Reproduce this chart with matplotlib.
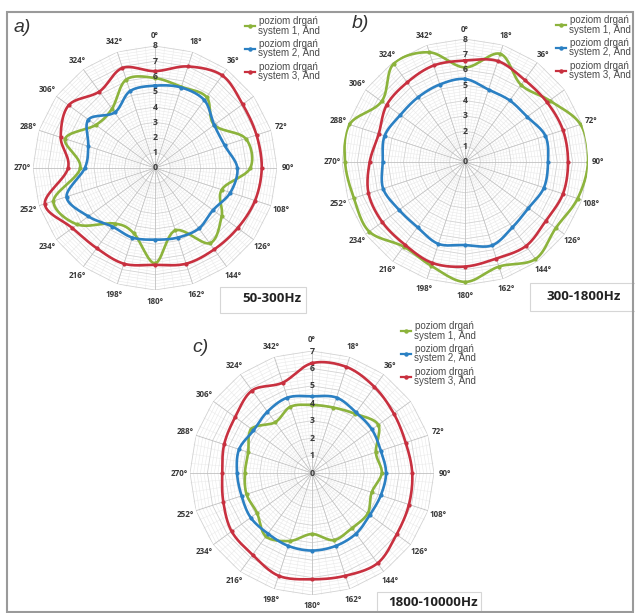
import numpy as np
import matplotlib
matplotlib.use("Agg")
import matplotlib.pyplot as plt
from matplotlib.lines import Line2D
from matplotlib.patches import Rectangle

# ---------------- data ----------------
angles_deg = [0, 18, 36, 54, 72, 90, 108, 126, 144, 162, 180,
              198, 216, 234, 252, 270, 288, 306, 324, 342]
# angle labels shown in the reference (54° is hidden behind the legend)
angle_labels_deg = [0, 18, 36, 72, 90, 108, 126, 144, 162, 180,
                    198, 216, 234, 252, 270, 288, 306, 324, 342]

# a) 50-300Hz
a_sys1 = [5.9, 5.6, 5.75, 4.8, 6.25, 6.25, 4.6, 5.4, 6.1, 4.3, 6.25,
          4.5, 4.5, 6.3, 7.0, 4.9, 6.2, 4.8, 4.8, 6.1]
a_sys2 = [5.4, 5.55, 5.5, 4.8, 4.8, 5.4, 5.2, 4.7, 4.9, 4.8, 4.7,
          4.8, 4.75, 5.4, 6.1, 4.6, 4.6, 5.4, 4.5, 5.3]
a_sys3 = [6.35, 7.0, 7.5, 7.1, 7.0, 7.0, 6.9, 6.7, 6.6, 6.6, 6.35,
          6.6, 6.5, 6.7, 7.6, 5.7, 6.5, 7.0, 6.2, 6.9]

# b) 300-1800Hz
b_sys1 = [6.15, 7.4, 6.2, 6.8, 7.9, 8.0, 7.7, 7.3, 7.8, 7.15, 7.8,
          7.1, 6.8, 7.7, 7.6, 7.8, 7.9, 6.7, 7.9, 7.5]
b_sys2 = [5.4, 4.95, 4.95, 5.0, 5.5, 5.4, 5.4, 5.1, 5.25, 5.7, 5.4,
          5.6, 5.25, 5.3, 5.6, 5.35, 5.5, 5.2, 5.2, 5.3]
b_sys3 = [6.6, 6.9, 6.6, 6.6, 6.7, 6.7, 6.7, 6.5, 6.75, 6.6, 6.8,
          6.9, 6.65, 6.65, 6.6, 6.2, 5.9, 6.3, 6.4, 6.6]

# c) 1800-10000Hz
c_sys1 = [3.9, 3.95, 4.2, 4.7, 3.85, 4.0, 3.6, 3.95, 3.9, 4.05, 3.5,
          4.1, 4.5, 3.9, 3.95, 3.85, 3.85, 4.3, 3.6, 4.0]
c_sys2 = [4.4, 4.55, 4.3, 4.25, 4.15, 4.25, 4.15, 4.1, 4.3, 4.4, 4.45,
          4.4, 4.3, 4.35, 4.25, 4.3, 4.4, 4.15, 4.35, 4.55]
c_sys3 = [6.3, 6.4, 6.1, 5.8, 5.65, 5.75, 5.85, 6.0, 6.4, 6.2, 6.1,
          6.2, 5.8, 5.7, 5.35, 5.15, 5.3, 5.45, 5.85, 5.45]

series_labels = ["poziom drgań\nsystem 1, Änd",
                 "poziom drgań\nsystem 2, Änd",
                 "poziom drgań\nsystem 3, Änd"]
series_colors = ["#8cb33c", "#2b80c3", "#c8303f"]
panel_letters = ["a)", "b)", "c)"]
band_labels = ["50-300Hz", "300-1800Hz", "1800-10000Hz"]
r_max = [8, 8, 7]

# ---------------- layout ----------------
W, H = 635, 613
fig = plt.figure(figsize=(W / 100, H / 100), dpi=100)
fig.patch.set_facecolor("white")


def px_rect(cx, cy, rad):
    return [(cx - rad) / W, (H - cy - rad) / H, 2 * rad / W, 2 * rad / H]


centers = [(155, 168, 122), (465, 162, 123), (312, 473, 122)]
data = [(a_sys1, a_sys2, a_sys3), (b_sys1, b_sys2, b_sys3), (c_sys1, c_sys2, c_sys3)]
legend_pos = [(245, 16), (556, 15), (401, 321)]
letter_pos = [(14, 27), (352, 24), (192, 347)]
band_boxes = [(220, 287, 86, 26, 301, 299), (530, 283, 106, 28, 621, 296),
              (377, 592, 104, 24, 478, 603)]

fam = ["Open Sans", "DejaVu Sans"]
leg_fam = ["Liberation Sans", "DejaVu Sans"]


def polygon_path(r, th_vertices, n=12):
    thv = list(th_vertices) + [th_vertices[0]]
    ths, rs = [], []
    for i in range(len(thv) - 1):
        x0, y0 = r * np.sin(thv[i]), r * np.cos(thv[i])
        x1, y1 = r * np.sin(thv[i + 1]), r * np.cos(thv[i + 1])
        t = np.linspace(0, 1, n, endpoint=False)
        xs = x0 + (x1 - x0) * t
        ys = y0 + (y1 - y0) * t
        ths.extend(np.arctan2(xs, ys))
        rs.extend(np.hypot(xs, ys))
    ths.append(ths[0])
    rs.append(rs[0])
    return np.unwrap(ths), rs


def smooth_closed(th, r, n=14):
    """Closed Catmull-Rom curve through the points (smoothed line style)."""
    x = np.asarray(r) * np.sin(th)
    y = np.asarray(r) * np.cos(th)
    N = len(x)
    xs, ys = [], []
    for i in range(N):
        p0 = np.array([x[(i - 1) % N], y[(i - 1) % N]])
        p1 = np.array([x[i], y[i]])
        p2 = np.array([x[(i + 1) % N], y[(i + 1) % N]])
        p3 = np.array([x[(i + 2) % N], y[(i + 2) % N]])
        for t in np.linspace(0, 1, n, endpoint=False):
            t2, t3 = t * t, t * t * t
            pt = 0.5 * ((2 * p1) + (-p0 + p2) * t +
                        (2 * p0 - 5 * p1 + 4 * p2 - p3) * t2 +
                        (-p0 + 3 * p1 - 3 * p2 + p3) * t3)
            xs.append(pt[0])
            ys.append(pt[1])
    xs.append(xs[0])
    ys.append(ys[0])
    xs, ys = np.array(xs), np.array(ys)
    return np.unwrap(np.arctan2(xs, ys)), np.hypot(xs, ys)


for k in range(3):
    cx, cy, rad = centers[k]
    ax = fig.add_axes(px_rect(cx, cy, rad), projection="polar")
    ax.set_theta_zero_location("N")
    ax.set_theta_direction(-1)
    rm = r_max[k]
    ax.set_ylim(0, rm)
    ax.set_xticks([])
    ax.set_yticks([])
    ax.grid(False)
    ax.spines["polar"].set_visible(False)
    ax.patch.set_alpha(0)

    th = np.deg2rad(angles_deg)
    # minor spokes
    for d in np.arange(0, 360, 4.5):
        if d % 18 != 0:
            ax.plot([np.deg2rad(d)] * 2, [1.0, rm], color="#ececec", lw=0.4, zorder=1)
    # rings
    for r in np.arange(0.2, rm + 0.001, 0.2):
        tt, rr = polygon_path(r, th)
        major = abs(r - round(r)) < 1e-6
        ax.plot(tt, rr, color="#d2d2d2" if major else "#e8e8e8",
                lw=0.6 if major else 0.4, zorder=1)
    # main spokes
    for t in th:
        ax.plot([t, t], [0, rm], color="#c0c0c0", lw=0.6, zorder=1.5)

    # data
    for s, vals in enumerate(data[k]):
        ts, rs = smooth_closed(th, vals)
        ax.plot(ts, rs, color=series_colors[s], lw=1.9, zorder=3 + s,
                solid_joinstyle="round")
        ax.plot(th, vals, linestyle="none", marker="o", markersize=2.0,
                color=series_colors[s], zorder=3 + s)

    # radial labels
    for r in range(0, rm + 1):
        ax.text(0, r, str(r), ha="center", va="center", fontsize=6.3,
                fontweight="bold", color="#3a3a3a", family=fam, zorder=8)
    # angle labels
    rl = rm * 133 / rad
    for d in angle_labels_deg:
        ax.text(np.deg2rad(d), rl, f"{d}°", ha="center", va="center",
                fontsize=5.8, fontweight="bold", color="#3a3a3a", family=fam)

    # legend
    handles = [Line2D([0], [0], color=series_colors[s], lw=1.6, marker="o",
                      markersize=2.2) for s in range(3)]
    lx, ly = legend_pos[k]
    leg = fig.legend(handles, series_labels, loc="upper left",
                     bbox_to_anchor=(lx / W, 1 - ly / H), frameon=False,
                     prop={"family": leg_fam, "size": 7.0}, handlelength=1.0,
                     handletextpad=0.3, labelspacing=0.35, borderpad=0,
                     borderaxespad=0)
    for t in leg.get_texts():
        t.set_multialignment("center")
        t.set_color("#4a4a4a")
        t.set_linespacing(0.85)

    # panel letter
    px, py = letter_pos[k]
    fig.text(px / W, 1 - py / H, panel_letters[k], fontsize=14, style="italic",
             color="#333333", va="center", ha="left", family=["Liberation Sans"])

    # band box
    bx, by, bw, bh, tx, ty = band_boxes[k]
    fig.add_artist(Rectangle((bx / W, 1 - (by + bh) / H), bw / W, bh / H,
                             transform=fig.transFigure, facecolor="white",
                             edgecolor="#d6d6d6", lw=0.8, zorder=10))
    fig.text(tx / W, 1 - ty / H, band_labels[k], fontsize=9.5, fontweight="bold",
             color="#222222", ha="right", va="center", family=fam, zorder=11)

# outer frame
fig.add_artist(Rectangle((7 / W, 1 / H), 626 / W, 600 / H, transform=fig.transFigure,
                         facecolor="none", edgecolor="#9a9a9a", lw=1.5, zorder=12))

fig.savefig("out.png", dpi=100, facecolor="white")
